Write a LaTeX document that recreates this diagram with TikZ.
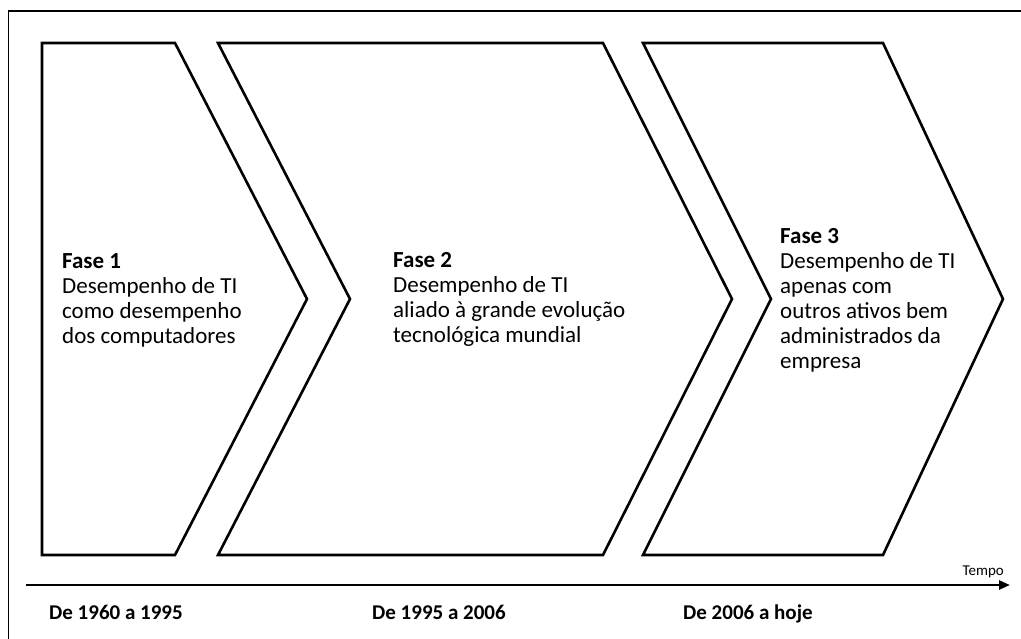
\documentclass[tikz,border=0pt]{standalone}
\usepackage{fontspec}
\setmainfont{Carlito}
\usetikzlibrary{arrows.meta}
\begin{document}
\begin{tikzpicture}[x=1pt,y=-1pt,
  chev/.style={draw=black,line width=2.6pt,line join=miter},
  body/.style={anchor=north west,inner sep=0pt,align=left,font=\fontsize{23}{25}\selectfont},
  period/.style={anchor=base west,inner sep=0pt,font=\fontsize{21}{24}\selectfont\bfseries},
  axis/.style={line width=2.6pt,-{Triangle[length=11pt,width=9pt]}}]
\useasboundingbox (0,0) rectangle (1021,638);
\fill[white] (0,0) rectangle (1021,638);
% frame (only left and top edges visible)
\draw[line width=1.5pt] (8.5,640) -- (8.5,11) -- (1023,11);
% chevrons
\draw[chev] (42,43) -- (175,43) -- (307,299) -- (175,555) -- (42,555) -- cycle;
\draw[chev] (218,43) -- (603,43) -- (732,299) -- (603,555) -- (218,555) -- (350,299) -- cycle;
\draw[chev] (643,43) -- (883,43) -- (1003,299) -- (883,555) -- (643,555) -- (771,299) -- cycle;
% texts
\node[body] (f1) at (62,253) {\textbf{Fase 1}\\Desempenho de TI\\como desempenho\\dos computadores};
\node[body] (f2) at (393,252) {\textbf{Fase 2}\\Desempenho de TI\\aliado à grande evolução\\tecnológica mundial};
\node[body] (f3) at (780,228) {\textbf{Fase 3}\\Desempenho de TI\\apenas com\\outros ativos bem\\administrados da\\empresa};
% time axis
\coordinate (a0) at (26,585);
\coordinate (a1) at (1010,585);
\draw[axis] (a0) -- (a1);
\node[anchor=base east,inner sep=0pt,font=\fontsize{15}{17}\selectfont] (tempo) at (1004,575) {Tempo};
\node[period] (p1) at (49,619) {De 1960 a 1995};
\node[period] (p2) at (372,619) {De 1995 a 2006};
\node[period] (p3) at (683,619) {De 2006 a hoje};
\end{tikzpicture}
\end{document}
